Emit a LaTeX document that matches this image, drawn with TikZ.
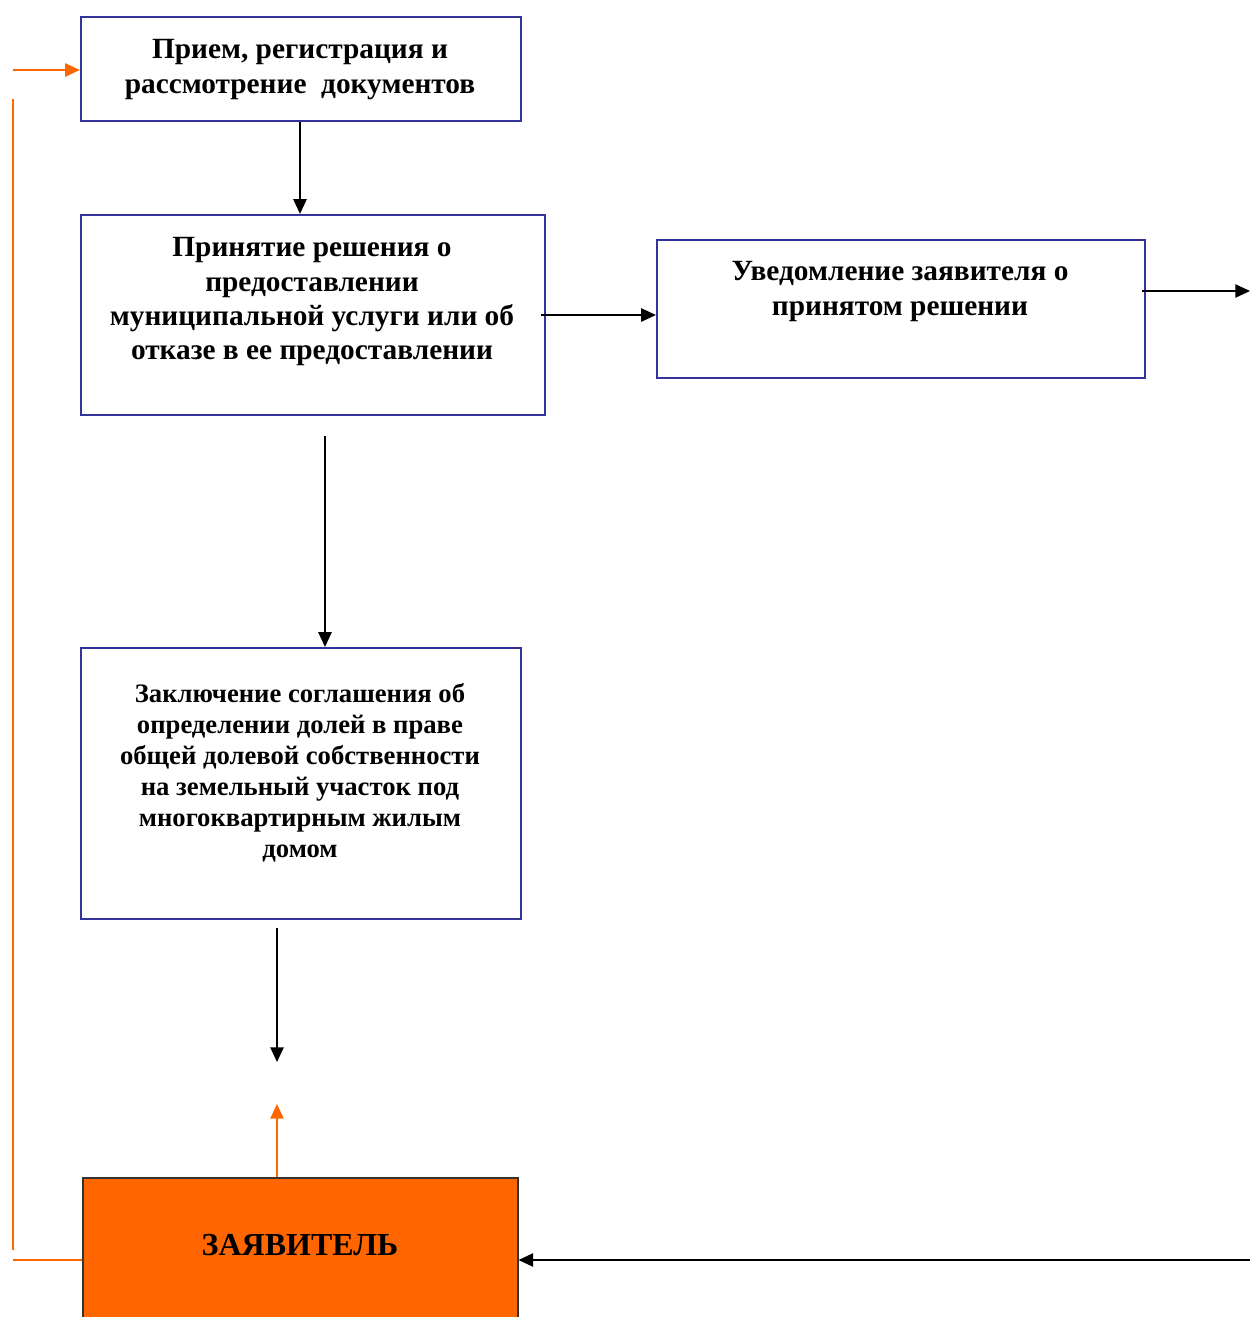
\documentclass[tikz,border=0pt]{standalone}
\usepackage{fontspec}
\setmainfont{Liberation Serif}
\usetikzlibrary{arrows.meta,calc}
\definecolor{boxblue}{HTML}{333399}
\definecolor{appor}{HTML}{FF6600}
\definecolor{dgray}{HTML}{333333}
\tikzset{
  box/.style={draw=boxblue,line width=1.7pt,rectangle,inner sep=0pt},
  appbox/.style={draw=dgray,fill=appor,line width=0.8pt,rectangle,inner sep=0pt},
  txt/.style={align=center,font=\bfseries\fontsize{22}{25.75}\selectfont,inner sep=0pt},
  txts/.style={align=center,font=\bfseries\fontsize{20}{23.25}\selectfont,inner sep=0pt},
  arr/.style={draw=black,line width=1.1pt,-{Triangle[length=11pt,width=10pt]}},
  oarr/.style={draw=appor,line width=1.1pt,-{Triangle[length=11pt,width=10pt]}},
  oline/.style={draw=appor,line width=1.1pt},
}
\begin{document}
\begin{tikzpicture}[x=0.75pt,y=-0.75pt]
\useasboundingbox (0,0) rectangle (1250,1317);
\begin{scope}
\clip (0,0) rectangle (1250,1317);
\node[box,minimum width=330pt,minimum height=78pt] (b1) at (301,69) {};
\node[box,minimum width=348pt,minimum height=150pt] (b2) at (313,315) {};
\node[box,minimum width=366pt,minimum height=103.5pt] (b3) at (901,309) {};
\node[box,minimum width=330pt,minimum height=203.25pt] (b4) at (301,783.5) {};
\node[appbox,minimum width=326.25pt,minimum height=108pt] (b5) at (300.5,1250) {};

\node[txt] (t1) at (300,69.5) {Прием, регистрация и\\рассмотрение\ \ документов};
\node[txt] (t2) at (312,302) {Принятие решения о\\предоставлении\\муниципальной услуги или об\\отказе в ее предоставлении};
\node[txt] (t3) at (900,291.5) {Уведомление заявителя о\\принятом решении};
\node[txts] (t4) at (300,773) {Заключение соглашения об\\определении долей в праве\\общей долевой собственности\\на земельный участок под\\многоквартирным жилым\\домом};
\node[txt,font=\bfseries\fontsize{24}{28}\selectfont] (t5) at (300,1245) {ЗАЯВИТЕЛЬ};

\coordinate (r1) at (1250,291);
\coordinate (r2) at (1250,1260);
\coordinate (m1) at (277,1062);
\coordinate (m2) at (277,1104);
\coordinate (l1) at (13,1260);
\coordinate (l2) at (13,1250);
\coordinate (l3) at (13,99);
\coordinate (l4) at (13,70);

\draw[arr] ([xshift=-0.75pt]b1.south) -- ([xshift=-0.75pt]b1.south |- b2.north);
\draw[arr] ([xshift=-3.75pt]b2.east) -- (b2.east -| b3.west);
\draw[arr] ([shift={(9pt,-15pt)}]b2.south) -- ([xshift=9pt]b2.south |- b4.north);
\draw[arr] ([xshift=-3pt]b3.east |- r1) -- (r1);
\draw[arr] ([yshift=-6pt]m1 |- b4.south) -- (m1);
\draw[oarr] (m2 |- b5.north) -- (m2);
\draw[arr] (r2) -- (r2 -| b5.east);
\draw[oline] (l1 -| b5.west) -- (l1);
\draw[oline] (l2) -- (l3);
\draw[oarr] (l4) -- (l4 -| b1.west);
\end{scope}
\end{tikzpicture}
\end{document}
